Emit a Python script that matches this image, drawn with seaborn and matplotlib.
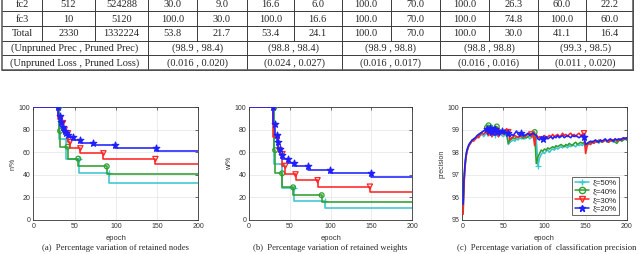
import numpy as np
import pandas as pd
import matplotlib
matplotlib.use("Agg")
import matplotlib.pyplot as plt
import seaborn as sns
from matplotlib.lines import Line2D

# ---------------- table data ----------------
ROW_NAMES = ["fc2", "fc3", "Total"]
NODES = ["512", "10", "2330"]
WEIGHTS = ["524288", "5120", "1332224"]
RET_FC2 = ["30.0", "9.0", "16.6", "6.0", "100.0", "70.0", "100.0", "26.3", "60.0", "22.2"]
RET_FC3 = ["100.0", "30.0", "100.0", "16.6", "100.0", "70.0", "100.0", "74.8", "100.0", "60.0"]
RET_TOTAL = ["53.8", "21.7", "53.4", "24.1", "100.0", "70.0", "100.0", "30.0", "41.1", "16.4"]
PREC_LABEL = "(Unpruned Prec , Pruned Prec)"
PREC = ["(98.9 , 98.4)", "(98.8 , 98.4)", "(98.9 , 98.8)", "(98.8 , 98.8)", "(99.3 , 98.5)"]
LOSS_LABEL = "(Unpruned Loss , Pruned Loss)"
LOSS = ["(0.016 , 0.020)", "(0.024 , 0.027)", "(0.016 , 0.017)", "(0.016 , 0.016)", "(0.011 , 0.020)"]

# ---------------- chart data ----------------
SERIES = ["ξ=50%", "ξ=40%", "ξ=30%", "ξ=20%"]
COLORS = ["#3cc6d0", "#2f9e2f", "#ff2525", "#1f1fff"]
MARKERS = ["+", "o", "v", "*"]

# retained nodes (%) : pruning epochs and levels (level k held until epoch k)
N50_EP = [31, 40, 55, 92]
N50_LV = [100, 72, 53.8, 41.7, 33.1]
N40_EP = [31, 32.5, 41.5, 54.5, 89]
N40_LV = [100, 79, 65, 54.4, 47.6, 40.5]
N30_EP = [30, 33, 36, 38, 42, 44.5, 57, 85, 148]
N30_LV = [100, 90, 86, 80, 77, 69, 63.6, 59.2, 54.1, 49.7]
N20_EP = [30, 32, 34, 36, 38, 40, 42, 48, 56, 72, 99, 149]
N20_LV = [100, 92.6, 86.7, 82.8, 79.3, 77, 75.5, 73.4, 70.7, 68.6, 66.6, 64.2, 61.5]

# retained weights (%)
W50_EP = [31, 40, 55, 93]
W50_LV = [100, 50, 28, 17, 10.5]
W40_EP = [31, 32, 40.5, 54, 89]
W40_LV = [100, 62, 41.4, 29, 22, 16.3]
W30_EP = [30, 35, 37.5, 41, 44.5, 57, 84, 148]
W30_LV = [100, 73.5, 62, 58.5, 48, 40.5, 35.3, 29.6, 25.1]
W20_EP = [30, 31.5, 34.5, 36, 37.5, 41, 47.5, 55.5, 72, 99, 149]
W20_LV = [100, 85, 75.5, 68.8, 63, 57.5, 54, 50.7, 47.5, 44.8, 42, 38.5]

# classification precision per recorded epoch
EPOCHS = [1, 2, 3, 4, 5, 6, 7, 8] + list(range(10, 201, 2))
P50 = [95.5, 96.7, 97.3, 97.7, 97.95, 98.1, 98.2, 98.3,
       98.4, 98.5, 98.55, 98.6, 98.65, 98.7, 98.75, 98.8, 98.7, 98.8,
       98.85, 98.75, 98.9, 98.7, 98.8, 98.75, 98.85, 98.7, 98.8, 98.75, 98.7, 98.8, 98.75,
       98.35, 98.45, 98.5, 98.55, 98.5, 98.6, 98.55, 98.65, 98.6, 98.7, 98.6, 98.65, 98.7, 98.6, 98.65, 98.7, 98.65,
       98.6, 97.4, 97.75, 97.9, 98.0, 97.95, 98.05, 98.1, 98.0, 98.1,
       98.15, 98.1, 98.2, 98.15, 98.2, 98.25, 98.2, 98.3, 98.25, 98.2,
       98.3, 98.25, 98.35, 98.3, 98.25, 98.35, 98.3, 98.35, 98.3, 98.4,
       98.2, 98.35, 98.4, 98.35, 98.45, 98.4, 98.45, 98.5, 98.4, 98.5,
       98.45, 98.5, 98.55, 98.45, 98.5, 98.55, 98.5, 98.45, 98.55, 98.5,
       98.55, 98.6, 98.5, 98.55, 98.6, 98.55]
P40 = [95.4, 96.6, 97.2, 97.65, 97.9, 98.05, 98.2, 98.3,
       98.45, 98.5, 98.6, 98.65, 98.7, 98.8, 98.85, 98.9, 98.95, 99.0,
       99.1, 99.2, 99.15, 99.2, 99.05, 99.0, 99.15, 98.95, 99.0, 98.9, 98.95, 99.0, 98.9,
       98.4, 98.55, 98.6, 98.65, 98.6, 98.7, 98.65, 98.75, 98.7, 98.6, 98.7, 98.65, 98.7, 98.75, 98.7, 98.8, 98.9,
       97.5, 97.8, 97.95, 98.1, 98.05, 98.15, 98.1, 98.2, 98.15, 98.2,
       98.25, 98.2, 98.3, 98.25, 98.3, 98.35, 98.3, 98.25, 98.35, 98.3,
       98.4, 98.35, 98.3, 98.4, 98.45, 98.35, 98.4, 98.45, 98.4, 98.45,
       98.3, 98.4, 98.45, 98.4, 98.5, 98.45, 98.5, 98.45, 98.55, 98.5,
       98.45, 98.5, 98.55, 98.5, 98.45, 98.5, 98.55, 98.5, 98.45, 98.4,
       98.5, 98.55, 98.5, 98.55, 98.6, 98.55]
P30 = [95.25, 96.5, 97.15, 97.6, 97.9, 98.1, 98.2, 98.3,
       98.4, 98.55, 98.5, 98.6, 98.7, 98.65, 98.8, 98.85, 98.8, 98.9,
       98.95, 98.85, 99.0, 98.8, 98.9, 98.85, 98.95, 98.8, 98.9, 98.85, 98.8, 98.95, 99.05,
       98.9, 98.55, 98.65, 98.7, 98.75, 98.7, 98.65, 98.75, 98.7, 98.8, 98.7, 98.75, 98.8, 98.85, 98.8, 98.85, 98.3,
       98.8, 98.65, 98.7, 98.6, 98.7, 98.75, 98.65, 98.7, 98.75, 98.7,
       98.8, 98.7, 98.75, 98.8, 98.7, 98.75, 98.85, 98.75, 98.8, 98.7,
       98.8, 98.85, 98.75, 98.8, 98.7, 98.8, 98.85, 98.75, 98.8, 98.85,
       97.95, 98.3, 98.4, 98.35, 98.45, 98.4, 98.5, 98.45, 98.5, 98.55,
       98.45, 98.5, 98.55, 98.5, 98.45, 98.55, 98.5, 98.55, 98.6, 98.5,
       98.55, 98.6, 98.55, 98.6, 98.65, 98.6]
P20 = [95.7, 96.8, 97.35, 97.75, 98.0, 98.15, 98.25, 98.35,
       98.45, 98.55, 98.6, 98.65, 98.75, 98.8, 98.85, 98.9, 98.95, 99.0,
       99.05, 98.95, 99.1, 98.9, 99.0, 99.05, 98.9, 99.0, 98.85, 98.95, 98.9, 98.85, 98.9,
       98.85, 98.7, 98.8, 98.75, 98.85, 98.95, 98.8, 98.75, 98.85, 98.8, 98.75, 98.8, 98.85, 98.75, 98.8, 98.85, 98.8,
       98.75, 98.6, 98.55, 98.7, 98.6, 98.65, 98.7, 98.6, 98.65, 98.7,
       98.6, 98.7, 98.65, 98.75, 98.65, 98.7, 98.75, 98.65, 98.7, 98.75,
       98.7, 98.65, 98.75, 98.7, 98.75, 98.7, 98.65, 98.7, 98.75, 98.7,
       98.35, 98.4, 98.45, 98.5, 98.45, 98.5, 98.55, 98.5, 98.45, 98.55,
       98.5, 98.55, 98.6, 98.5, 98.55, 98.6, 98.55, 98.5, 98.6, 98.55,
       98.6, 98.55, 98.6, 98.65, 98.6, 98.65]

CAPTIONS = ["(a)  Percentage variation of retained nodes",
            "(b)  Percentage variation of retained weights",
            "(c)  Percentage variation of  classification precision"]
YLABELS = ["n/%", "w/%", "precision"]

# ---------------- figure ----------------
sns.set_style("white")
plt.rcParams["font.family"] = ["Liberation Sans", "DejaVu Sans"]
W, H = 640, 254
fig = plt.figure(figsize=(6.4, 2.54), dpi=100)

# table drawn in pixel space
tab = fig.add_axes([0, 0, 1, 1])
tab.set_xlim(0, W)
tab.set_ylim(H, 0)
tab.axis("off")
serif = {"family": ["Liberation Serif", "DejaVu Serif"], "size": 7.5}
LEFT, RIGHT = 2, 633
COLX = [2, 42, 95, 148]
PAIRX = [148, 246.5, 341.5, 440, 538, 633]
ROWY = [-3.5, 11.2, 25.9, 40.6, 55.3, 70.0]
lc, lw = "#3a3a3a", 0.7
for y in ROWY[1:]:
    tab.plot([LEFT, RIGHT], [y, y], color=lc, lw=lw)
for x in COLX[1:3]:
    tab.plot([x, x], [ROWY[0], ROWY[3]], color=lc, lw=lw)
for x in PAIRX:
    tab.plot([x, x], [ROWY[0], ROWY[5]], color=lc, lw=lw)
for k in range(5):
    xm = (PAIRX[k] + PAIRX[k + 1]) / 2
    tab.plot([xm, xm], [ROWY[0], ROWY[3]], color=lc, lw=lw)
tab.plot([LEFT, LEFT], [ROWY[0], ROWY[5]], color="#555555", lw=1.1)
tab.plot([RIGHT, RIGHT], [ROWY[0], ROWY[5]], color="#555555", lw=1.1)
tab.plot([LEFT, RIGHT], [ROWY[5], ROWY[5]], color="#555555", lw=1.1)

rets = [RET_FC2, RET_FC3, RET_TOTAL]
for r in range(3):
    yc = (ROWY[r] + ROWY[r + 1]) / 2 + 0.5
    tab.text((COLX[0] + COLX[1]) / 2, yc, ROW_NAMES[r], ha="center", va="center", fontdict=serif)
    tab.text((COLX[1] + COLX[2]) / 2, yc, NODES[r], ha="center", va="center", fontdict=serif)
    tab.text((COLX[2] + COLX[3]) / 2, yc, WEIGHTS[r], ha="center", va="center", fontdict=serif)
    for k in range(5):
        xa, xb = PAIRX[k], PAIRX[k + 1]
        xm = (xa + xb) / 2
        tab.text((xa + xm) / 2, yc, rets[r][2 * k], ha="center", va="center", fontdict=serif)
        tab.text((xm + xb) / 2, yc, rets[r][2 * k + 1], ha="center", va="center", fontdict=serif)
for r, (lab, vals) in enumerate([(PREC_LABEL, PREC), (LOSS_LABEL, LOSS)]):
    yc = (ROWY[3 + r] + ROWY[4 + r]) / 2 + 0.5
    tab.text((COLX[0] + COLX[3]) / 2, yc, lab, ha="center", va="center", fontdict=serif)
    for k in range(5):
        tab.text((PAIRX[k] + PAIRX[k + 1]) / 2, yc, vals[k], ha="center", va="center", fontdict=serif)

# axes placement (pixels)
AX_PIX = [(33.3, 198.3), (249, 412.3), (462.3, 626.7)]
TOP, BOT = 107.3, 220
axes = []
for (x0, x1) in AX_PIX:
    ax = fig.add_axes([x0 / W, (H - BOT) / H, (x1 - x0) / W, (BOT - TOP) / H])
    axes.append(ax)


def style(ax, ylab, yticks, ylim):
    ax.set_xlim(0, 200)
    ax.set_ylim(*ylim)
    ax.set_xticks([0, 50, 100, 150, 200])
    ax.set_yticks(yticks)
    ax.grid(True, color="#e4e4e4", lw=0.5)
    ax.set_axisbelow(True)
    for s in ax.spines.values():
        s.set_visible(True)
        s.set_color("#333333")
        s.set_linewidth(0.6)
    ax.tick_params(direction="in", length=2, width=0.5, labelsize=5, colors="#333333",
                   top=True, right=True, pad=2)
    ax.set_xlabel("epoch", fontsize=5.5, color="#333333")
    ax.xaxis.set_label_coords(0.5, -0.135)
    ax.set_ylabel(ylab, fontsize=5, color="#333333")
    ax.yaxis.set_label_coords(-0.1, 0.5)


def stair_frame(ep, lv):
    return pd.DataFrame({"epoch": [0] + list(ep) + [200], "val": list(lv) + [lv[-1]]})


mk_size = {"+": 14, "o": 12, "v": 14, "*": 24}
stair_sets = [
    [(N50_EP, N50_LV), (N40_EP, N40_LV), (N30_EP, N30_LV), (N20_EP, N20_LV)],
    [(W50_EP, W50_LV), (W40_EP, W40_LV), (W30_EP, W30_LV), (W20_EP, W20_LV)],
]
for ai, sets in enumerate(stair_sets):
    ax = axes[ai]
    for i, (ep, lv) in enumerate(sets):
        df = stair_frame(ep, lv)
        sns.lineplot(data=df, x="epoch", y="val", ax=ax, color=COLORS[i], lw=1.15,
                     drawstyle="steps-post", estimator=None, sort=False, zorder=2 + i)
        mdf = pd.DataFrame({"epoch": list(ep), "val": list(lv[:len(ep)])})
        m = MARKERS[i]
        if m in ("o", "v"):
            sns.scatterplot(data=mdf, x="epoch", y="val", ax=ax, marker=m, s=mk_size[m],
                            facecolor="none", edgecolor=COLORS[i], linewidth=0.9, zorder=3 + i)
        else:
            sns.scatterplot(data=mdf, x="epoch", y="val", ax=ax, marker=m, s=mk_size[m],
                            color=COLORS[i], edgecolor=COLORS[i], linewidth=0.9, zorder=3 + i)
    style(ax, YLABELS[ai], [0, 20, 40, 60, 80, 100], (0, 100))

# precision plot
ax = axes[2]
prec = [P50, P40, P30, P20]
node_eps = [N50_EP, N40_EP, N30_EP, N20_EP]
ep_arr = np.array(EPOCHS)
for i in range(4):
    df = pd.DataFrame({"epoch": EPOCHS, "prec": prec[i]})
    sns.lineplot(data=df, x="epoch", y="prec", ax=ax, color=COLORS[i], lw=1.15,
                 estimator=None, sort=False, zorder=2 + i)
    idx = [int(np.argmin(np.abs(ep_arr - e))) for e in node_eps[i]]
    mdf = df.iloc[idx]
    m = MARKERS[i]
    if m in ("o", "v"):
        sns.scatterplot(data=mdf, x="epoch", y="prec", ax=ax, marker=m, s=mk_size[m],
                        facecolor="none", edgecolor=COLORS[i], linewidth=0.9, zorder=3 + i)
    else:
        sns.scatterplot(data=mdf, x="epoch", y="prec", ax=ax, marker=m, s=mk_size[m],
                        color=COLORS[i], edgecolor=COLORS[i], linewidth=0.9, zorder=3 + i)
style(ax, YLABELS[2], [95, 96, 97, 98, 99, 100], (95, 100))
ax.yaxis.set_label_coords(-0.105, 0.5)

handles = []
for i in range(4):
    m = MARKERS[i]
    handles.append(Line2D([0], [0], color=COLORS[i], lw=1.1, marker=m, markersize=4.5,
                          markerfacecolor="none" if m in ("o", "v") else COLORS[i],
                          markeredgecolor=COLORS[i]))
leg = ax.legend(handles, SERIES, loc="lower right", bbox_to_anchor=(0.955, 0.045),
                borderaxespad=0, fontsize=5.8, frameon=True, fancybox=False,
                labelspacing=0.12, borderpad=0.3, handletextpad=0.4, handlelength=1.8)
leg.get_frame().set_edgecolor("#222222")
leg.get_frame().set_linewidth(0.6)

# captions
for k, (x0, x1) in enumerate(AX_PIX):
    fig.text((x0 + x1) / 2 / W + (0.004 if k == 2 else 0), 0.022, CAPTIONS[k], ha="center", va="center",
             fontsize=6.2, family=["Liberation Serif", "DejaVu Serif"])

fig.savefig("out.png", dpi=100)
